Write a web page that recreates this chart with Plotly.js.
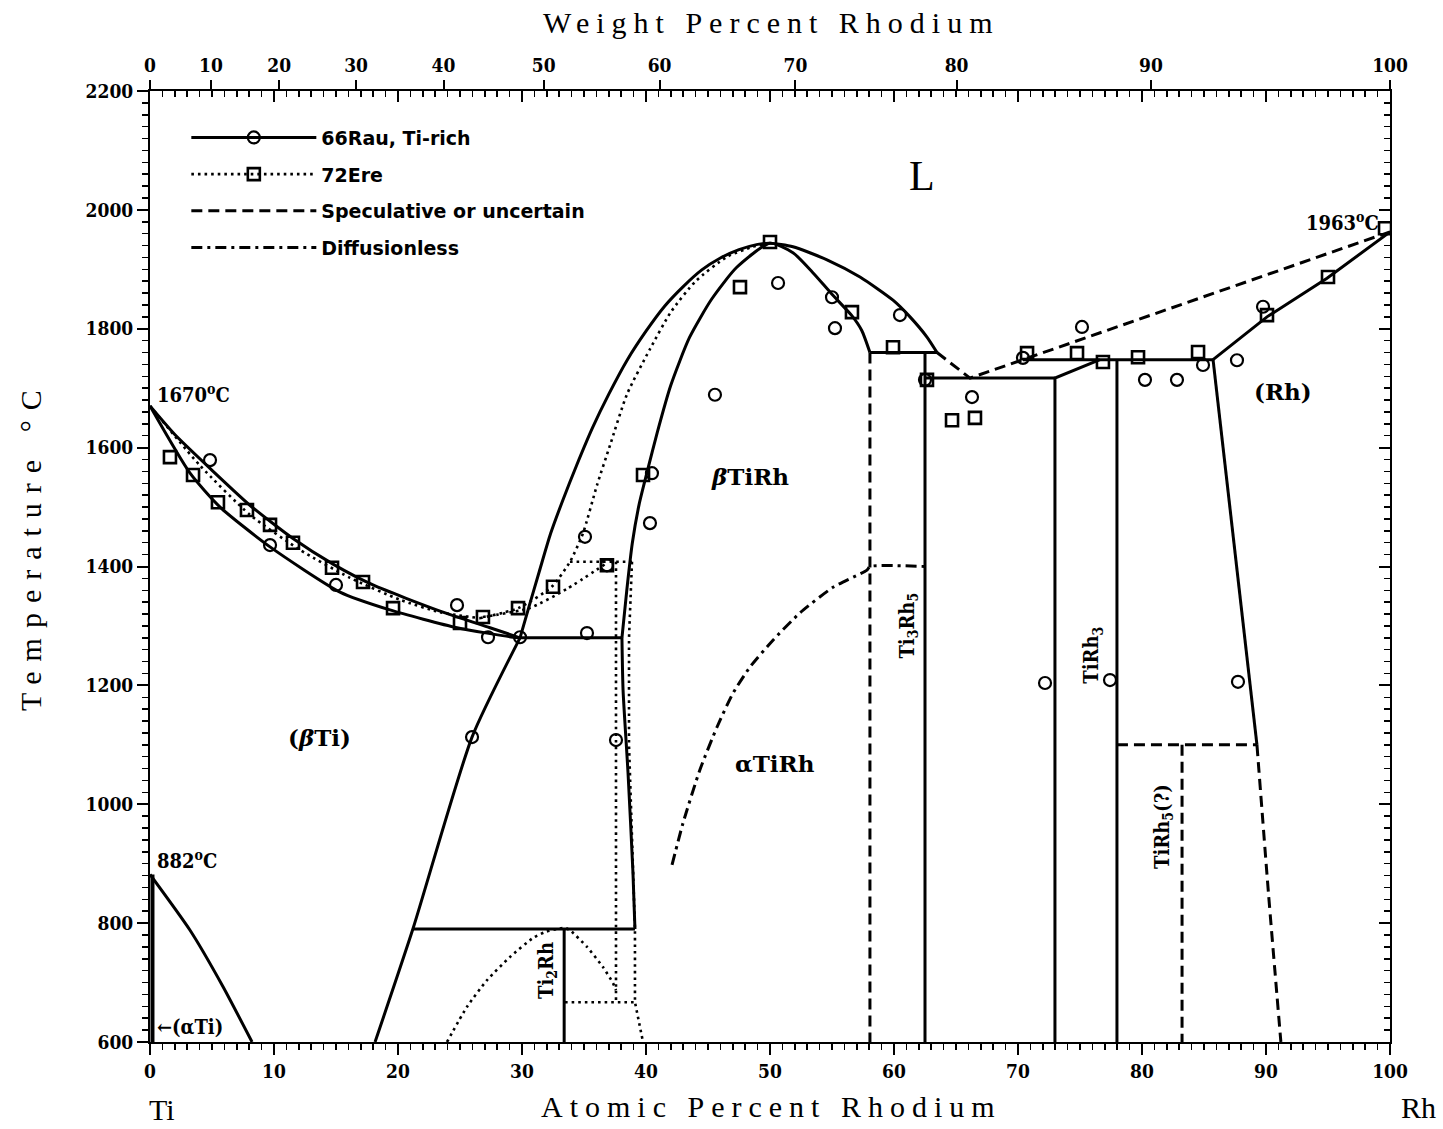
<!DOCTYPE html>
<html><head><meta charset="utf-8">
<script src="https://cdn.plot.ly/plotly-3.0.1.min.js"></script>
<style>
html,body{margin:0;padding:0;background:#fff;}
#chart{width:1443px;height:1129px;}
g.annotation[data-index="0"] text, g.annotation[data-index="1"] text {letter-spacing:7px;}
g.annotation[data-index="2"] text {letter-spacing:10px;}
</style></head><body><div id="chart"></div><script>
// ---------- tick labels ----------
const atTicks = [0,10,20,30,40,50,60,70,80,90,100];
const wtTicks = [0,10,20,30,40,50,60,70,80,90,100];
const M_Ti = 47.867, M_Rh = 102.906;
const wtTickPos = wtTicks.map(w => { const a = w / M_Rh, b = (100 - w) / M_Ti; return 100 * a / (a + b); });
const tempTicks = [600,800,1000,1200,1400,1600,1800,2000,2200];

// ---------- 66Rau (solid) boundaries ----------
const liqTi_x = [0, 2.0, 4.84, 8.06, 11.53, 14.76, 17.98, 23.39, 27.42, 29.84];
const liqTi_T = [1670, 1622, 1565, 1503, 1447, 1404, 1369, 1325, 1297, 1280];
const solTi_x = [0, 3.23, 5.65, 9.68, 15.32, 19.35, 24.76, 29.27, 29.84];
const solTi_T = [1670, 1557, 1500, 1433, 1357, 1327, 1297, 1281, 1280];
const solvusBTi_x = [18.15, 21.2, 25.97, 29.84];
const solvusBTi_T = [600, 790, 1113, 1280];
const liqTiRh_x = [29.84, 30.6, 31.4, 32.3, 33.3, 34.4, 35.7, 37.0, 38.5, 40.0, 41.5, 43.0, 44.5, 46.0, 47.5, 49.0, 50.0, 51.85, 54.60, 57.26, 59.92, 61.29, 62.66, 63.47];
const liqTiRh_T = [1280, 1335, 1392, 1455, 1512, 1570, 1634, 1690, 1748, 1796, 1838, 1871, 1899, 1919, 1933, 1942, 1944, 1938, 1916, 1887, 1848, 1820, 1786, 1760];
const solTiRh_x = [38.06, 38.45, 38.9, 39.45, 40.1, 40.9, 42.0, 43.5, 45.3, 47.3, 50.0, 51.85, 53.3, 55.0, 56.6, 57.4, 58.06];
const solTiRh_T = [1280, 1360, 1440, 1505, 1560, 1625, 1705, 1785, 1850, 1903, 1944, 1928, 1898, 1858, 1822, 1797, 1760];
const solvusTiRh_x = [38.06, 38.15, 38.55, 38.95, 39.11];
const solvusTiRh_T = [1280, 1192, 1053, 884, 790];
const eut1280_x = [29.84, 38.06], eut1280_T = [1280, 1280];
const per790_x = [21.2, 39.11], per790_T = [790, 790];
const ti2rh_x = [33.4, 33.4], ti2rh_T = [600, 790];
const per1760_x = [58.06, 63.47], per1760_T = [1760, 1760];
const ti3rh5_x = [62.5, 62.5], ti3rh5_T = [600, 1760];
const eut1717_x = [62.5, 72.98], eut1717_T = [1717, 1717];
const tirh3L_x = [72.98, 72.98, 76.61], tirh3L_T = [600, 1717, 1748];
const tirh3R_x = [77.98, 77.98], tirh3R_T = [600, 1748];
const per1748_x = [70.40, 85.73], per1748_T = [1748, 1748];
const liqRh_x = [85.73, 90.08, 94.92, 100], liqRh_T = [1748, 1820, 1885, 1963];
const solvusRh_x = [85.73, 89.27], solvusRh_T = [1748, 1100];
const aTi_x = [0, 3.23, 5.89, 8.23], aTi_T = [882, 788, 693, 600];
const aTiSolvus_x = [0.2, 0.2], aTiSolvus_T = [882, 600];

// ---------- 72Ere (dotted) boundaries ----------
const ereLiqL_x = [0, 4.03, 8.06, 12.10, 16.13, 20.16, 23.39, 26.61];
const ereLiqL_T = [1670, 1570, 1487, 1428, 1381, 1344, 1323, 1313];
const ereLiqR_x = [26.61, 29.7, 32.4, 33.87, 34.92, 36.05, 37.10, 38.47, 40.3, 42.0, 44.0, 46.53, 48.63, 50.0];
const ereLiqR_T = [1313, 1330, 1366, 1408, 1456, 1537, 1604, 1690, 1765, 1828, 1880, 1921, 1938, 1944];
const ereSol_x = [26.85, 30.6, 33.6, 36.85];
const ereSol_T = [1315, 1330, 1362, 1406];
const ere1408_x = [33.87, 38.9], ere1408_T = [1408, 1408];
const ereVL_x = [37.58, 37.58], ereVL_T = [1408, 667];
const ereVR_x = [38.87, 38.63, 38.63, 38.95, 39.11, 39.11, 39.76];
const ereVR_T = [1408, 1280, 1100, 900, 790, 667, 600];
const ereTi2Rh_x = [23.95, 25.56, 27.18, 29.03, 30.89, 31.85, 32.82, 33.47, 33.87, 35.24, 36.53, 37.34, 37.58];
const ereTi2Rh_T = [600, 659, 704, 743, 775, 785, 790, 792, 788, 760, 726, 699, 687];
const ere667_x = [33.47, 39.11], ere667_T = [667, 667];

// ---------- speculative (dashed) ----------
const dVert58_x = [58.06, 58.06], dVert58_T = [1760, 600];
const dLiq_x = [63.47, 66.13, 100], dLiq_T = [1760, 1717, 1963];
const d1100_x = [77.98, 89.27], d1100_T = [1100, 1100];
const dTiRh5_x = [83.23, 83.23], dTiRh5_T = [1100, 600];
const dSolvusRh_x = [89.27, 90.2, 91.2], dSolvusRh_T = [1100, 850, 600];

// ---------- diffusionless (dash-dot) ----------
const diff_x = [42.10, 42.98, 44.35, 45.73, 47.02, 48.39, 50.24, 52.42, 55.08, 57.82, 58.06, 62.5];
const diff_T = [898, 968, 1058, 1130, 1187, 1231, 1276, 1322, 1365, 1394, 1400, 1400];

// ---------- data points ----------
const rau_x = [4.84, 9.68, 15.0, 24.76, 27.26, 29.84, 35.24, 35.08, 36.85, 40.32, 40.48, 25.97, 37.58, 45.56, 50.65, 55.0, 55.24, 60.48, 62.5, 66.29, 70.40, 75.16, 80.24, 82.82, 84.92, 87.66, 89.76, 72.18, 77.42, 87.74];
const rau_T = [1579, 1436, 1369, 1335, 1281, 1281, 1288, 1450, 1402, 1473, 1557, 1113, 1108, 1689, 1877, 1853, 1801, 1823, 1714, 1685, 1751, 1803, 1714, 1714, 1739, 1747, 1837, 1204, 1209, 1206];
const ere_x = [1.61, 3.47, 5.48, 7.82, 9.68, 11.53, 14.68, 17.18, 19.60, 25.0, 26.85, 29.68, 32.50, 36.85, 39.76, 47.58, 50.0, 56.61, 59.92, 62.66, 64.68, 66.53, 70.73, 74.76, 76.85, 79.68, 84.52, 90.08, 95.0, 99.6];
const ere_T = [1584, 1554, 1508, 1495, 1470, 1440, 1398, 1374, 1330, 1305, 1315, 1330, 1366, 1402, 1554, 1870, 1946, 1828, 1769, 1714, 1646, 1650, 1759, 1759, 1744, 1752, 1761, 1823, 1887, 1969];

// ---------- styles ----------
const STY = {
  solid: {color:'black', width:3},
  dot: {color:'black', width:2.6, dash:'2.6px,4px'},
  dash: {color:'black', width:3, dash:'11px,6px'},
  dashdot: {color:'black', width:3, dash:'11px,5px,3px,5px'}
};
const traces = [];
function L(x, y, kind, spline) {
  const ln = Object.assign({}, STY[kind]);
  if (spline) { ln.shape = 'spline'; ln.smoothing = 0.6; }
  traces.push({x:x, y:y, mode:'lines', line:ln, showlegend:false, hoverinfo:'skip'});
}
// dotted first (underneath)
L(ereLiqL_x, ereLiqL_T, 'dot', true);
L(ereLiqR_x, ereLiqR_T, 'dot', true);
L(ereSol_x, ereSol_T, 'dot', true);
L(ere1408_x, ere1408_T, 'dot');
L(ereVL_x, ereVL_T, 'dot');
L(ereVR_x, ereVR_T, 'dot');
L(ereTi2Rh_x, ereTi2Rh_T, 'dot', true);
L(ere667_x, ere667_T, 'dot');
// solid
L(liqTi_x, liqTi_T, 'solid', true);
L(solTi_x, solTi_T, 'solid', true);
L(solvusBTi_x, solvusBTi_T, 'solid', true);
L(liqTiRh_x, liqTiRh_T, 'solid', true);
L(solTiRh_x, solTiRh_T, 'solid', true);
L(solvusTiRh_x, solvusTiRh_T, 'solid', true);
L(eut1280_x, eut1280_T, 'solid');
L(per790_x, per790_T, 'solid');
L(ti2rh_x, ti2rh_T, 'solid');
L(per1760_x, per1760_T, 'solid');
L(ti3rh5_x, ti3rh5_T, 'solid');
L(eut1717_x, eut1717_T, 'solid');
L(tirh3L_x, tirh3L_T, 'solid');
L(tirh3R_x, tirh3R_T, 'solid');
L(per1748_x, per1748_T, 'solid');
L(liqRh_x, liqRh_T, 'solid');
L(solvusRh_x, solvusRh_T, 'solid');
L(aTi_x, aTi_T, 'solid', true);
traces.push({x:aTiSolvus_x, y:aTiSolvus_T, mode:'lines', line:{color:'black', width:4}, showlegend:false, hoverinfo:'skip'});
// dashed
L(dVert58_x, dVert58_T, 'dash');
L(dLiq_x, dLiq_T, 'dash');
L(d1100_x, d1100_T, 'dash');
L(dTiRh5_x, dTiRh5_T, 'dash');
L(dSolvusRh_x, dSolvusRh_T, 'dash', true);
// dash-dot
L(diff_x, diff_T, 'dashdot', true);
// points
traces.push({x:rau_x, y:rau_T, mode:'markers', marker:{symbol:'circle-open', size:12, color:'black', line:{width:2.2, color:'black'}}, showlegend:false, hoverinfo:'skip'});
traces.push({x:ere_x, y:ere_T, mode:'markers', marker:{symbol:'square-open', size:12, color:'black', line:{width:2.6, color:'black'}}, showlegend:false, hoverinfo:'skip'});
// axis carriers
traces.push({x:[null], y:[null], xaxis:'x2', yaxis:'y', showlegend:false, hoverinfo:'skip', mode:'lines'});
traces.push({x:[null], y:[null], xaxis:'x3', yaxis:'y', showlegend:false, hoverinfo:'skip', mode:'lines'});
traces.push({x:[null], y:[null], xaxis:'x', yaxis:'y2', showlegend:false, hoverinfo:'skip', mode:'lines'});
// legend entries
const legendNames = ['66Rau, Ti-rich', '72Ere', 'Speculative or uncertain', 'Diffusionless'];
traces.push({x:[null], y:[null], name:legendNames[0], legendgroup:'a', mode:'lines+markers', line:STY.solid, marker:{symbol:'circle-open', size:12, color:'black', line:{width:2.2}}});
traces.push({x:[null], y:[null], name:legendNames[1], legendgroup:'b', mode:'lines+markers', line:STY.dot, marker:{symbol:'square-open', size:12, color:'black', line:{width:2.6}}});
traces.push({x:[null], y:[null], name:legendNames[2], legendgroup:'c', mode:'lines', line:STY.dash});
traces.push({x:[null], y:[null], name:legendNames[3], legendgroup:'d', mode:'lines', line:STY.dashdot});

const tickFont = {family:'DejaVu Serif Condensed, DejaVu Serif, serif', size:19, color:'black', weight:'bold'};
const lblFont = {family:'DejaVu Serif, serif', size:23, color:'black', weight:'bold'};
const smallLbl = {family:'DejaVu Serif Condensed, DejaVu Serif, serif', size:20, color:'black', weight:'bold'};
const titleFont = {family:'Liberation Serif, serif', size:30, color:'black'};

const ax = {showgrid:false, zeroline:false, linecolor:'black', linewidth:2, tickcolor:'black', tickwidth:2};
const P = {xref:'paper', yref:'paper', xanchor:'center', yanchor:'middle', showarrow:false};
const layout = {
  width:1443, height:1129,
  margin:{l:150, r:53, t:91, b:87},
  paper_bgcolor:'white', plot_bgcolor:'white',
  showlegend:true,
  legend:{x:0.0293, y:0.971, xanchor:'left', yanchor:'top', bgcolor:'rgba(0,0,0,0)', itemwidth:125,
          traceorder:'grouped', tracegroupgap:9,
          font:{family:'DejaVu Sans, sans-serif', size:19, color:'black', weight:'bold'}},
  xaxis: Object.assign({}, ax, {range:[0,100], tickmode:'array', tickvals:atTicks, ticktext:atTicks.map(String),
     ticks:'outside', ticklen:11, showline:true, tickfont:tickFont,
     minor:{dtick:1, ticks:'outside', ticklen:6, tickwidth:1.5, tickcolor:'black', showgrid:false}}),
  xaxis2: Object.assign({}, ax, {overlaying:'x', side:'top', range:[0,100], tickmode:'array', tickvals:wtTickPos,
     ticktext:wtTicks.map(String), ticks:'outside', ticklen:10, showline:false, tickfont:tickFont}),
  xaxis3: Object.assign({}, ax, {overlaying:'x', side:'top', range:[0,100], tickmode:'array', tickvals:atTicks,
     ticks:'inside', ticklen:11, showline:true, showticklabels:false,
     minor:{dtick:1, ticks:'inside', ticklen:6, tickwidth:1.5, tickcolor:'black', showgrid:false}}),
  yaxis: Object.assign({}, ax, {range:[600,2200], tickmode:'array', tickvals:tempTicks, ticktext:tempTicks.map(String),
     ticks:'outside', ticklen:11, showline:true, tickfont:tickFont,
     minor:{dtick:20, ticks:'outside', ticklen:6, tickwidth:1.5, tickcolor:'black', showgrid:false}}),
  yaxis2: Object.assign({}, ax, {overlaying:'y', side:'right', range:[600,2200], tickmode:'array', tickvals:tempTicks,
     ticks:'inside', ticklen:11, showline:true, showticklabels:false,
     minor:{dtick:20, ticks:'inside', ticklen:6, tickwidth:1.5, tickcolor:'black', showgrid:false}}),
  annotations:[
    Object.assign({text:'Weight Percent Rhodium', x:0.5016, y:1.0725, font:titleFont}, P),
    Object.assign({text:'Atomic Percent Rhodium', x:0.5016, y:-0.0673, font:titleFont}, P),
    Object.assign({text:'Temperature °C', x:-0.0968, y:0.5226, textangle:-90, font:titleFont}, P),
    Object.assign({text:'Ti', x:0.0097, y:-0.0715, font:titleFont}, P),
    Object.assign({text:'Rh', x:1.0226, y:-0.0694, font:titleFont}, P),
    {text:'L', x:62.26, y:2057, showarrow:false, font:{family:'Liberation Serif, serif', size:42, color:'black'}},
    {text:'<i>β</i>TiRh', x:48.39, y:1551, showarrow:false, font:lblFont},
    {text:'αTiRh', x:50.4, y:1069, showarrow:false, font:lblFont},
    {text:'(<i>β</i>Ti)', x:13.7, y:1113, showarrow:false, font:lblFont},
    {text:'(Rh)', x:91.4, y:1694, showarrow:false, font:lblFont},
    {text:'1670<sup>o</sup>C', x:0.4, y:1690, xanchor:'left', showarrow:false, font:smallLbl},
    {text:'882<sup>o</sup>C', x:0.4, y:906, xanchor:'left', showarrow:false, font:smallLbl},
    {text:'1963<sup>o</sup>C', x:99.3, y:1980, xanchor:'right', showarrow:false, font:smallLbl},
    {text:'←(αTi)', x:0.4, y:625, xanchor:'left', showarrow:false, font:smallLbl},
    {text:'Ti<sub>3</sub>Rh<sub>5</sub>', x:61.1, y:1300, textangle:-90, showarrow:false, font:smallLbl},
    {text:'TiRh<sub>3</sub>', x:75.97, y:1250, textangle:-90, showarrow:false, font:smallLbl},
    {text:'Ti<sub>2</sub>Rh', x:32.0, y:721, textangle:-90, showarrow:false, font:smallLbl},
    {text:'TiRh<sub>5</sub>(?)', x:81.7, y:962, textangle:-90, showarrow:false, font:smallLbl}
  ]
};
Plotly.newPlot('chart', traces, layout, {staticPlot:true});
</script></body></html>
